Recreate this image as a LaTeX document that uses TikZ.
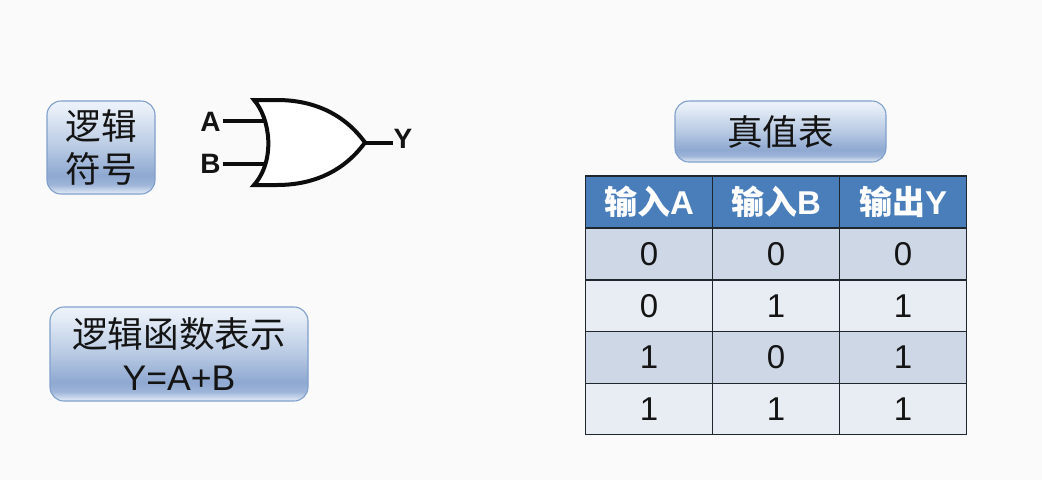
\documentclass[tikz,border=0pt]{standalone}
\usepackage{fontspec}
\setmainfont{Liberation Sans}
\newfontfamily\cjk{Noto Sans CJK SC}
\newfontfamily\cjkb{Noto Sans CJK SC Bold}
\definecolor{bgc}{HTML}{FAFAFA}
\definecolor{btnline}{HTML}{7FA0CB}
\definecolor{hdr}{HTML}{4A7EBB}
\definecolor{rowa}{HTML}{CED7E6}
\definecolor{rowb}{HTML}{E8ECF3}
\definecolor{gridc}{HTML}{20262E}
\pgfdeclareverticalshading{btnshade}{100bp}{
 rgb(0bp)=(0.90,0.93,0.97);
 rgb(25bp)=(0.90,0.93,0.97);
 rgb(30bp)=(0.62,0.71,0.85);
 rgb(35bp)=(0.56,0.66,0.82);
 rgb(50bp)=(0.72,0.79,0.89);
 rgb(70bp)=(0.90,0.93,0.97);
 rgb(75bp)=(0.93,0.95,0.98);
 rgb(100bp)=(0.93,0.95,0.98)}
\tikzset{
 btn/.style={draw=btnline,line width=1.1pt,rounded corners=14pt,shading=btnshade,
   align=center,inner sep=0pt,text=black!92,font=\fontsize{35.6}{43}\selectfont\cjk},
 cell/.style={draw=gridc,line width=1.2pt,minimum height=51.6pt,minimum width=127pt,
   inner sep=0pt,font=\fontsize{33}{36}\selectfont,text=black!92},
 head/.style={cell,fill=hdr,minimum height=52pt,text=white,font=\fontsize{33}{36}\selectfont\bfseries},
 gatel/.style={font=\fontsize{28}{30}\selectfont\bfseries,inner sep=0pt,text=black!92},
 wire/.style={line width=4pt,black!95}
}
\begin{document}
\begin{tikzpicture}[x=1pt,y=-1pt]
\useasboundingbox[fill=bgc] (0,0) rectangle (1042,480);
% buttons
\node[btn,minimum width=108pt,minimum height=93pt] (sym) at (101,147.5) {逻辑\\符号};
\node[btn,minimum width=258pt,minimum height=94pt] (fn) at (179,354) {逻辑函数表示\\{\rmfamily Y=A+B}};
\node[btn,minimum width=211pt,minimum height=61pt] (tt) at (780.5,131.5) {真值表};
% gate
\node[gatel] (A) at (210.5,122) {A};
\node[gatel] (B) at (210.5,164) {B};
\node[gatel] (Y) at (403,139) {Y};
\coordinate (ina) at (267,121);
\coordinate (inb) at (267,164);
\coordinate (out) at (365,142.5);
\coordinate (tipt) at (254,100);
\coordinate (tipb) at (254,185);
\draw[wire] (A.east) ++(2,-1) -- (ina);
\draw[wire] (B.east) ++(2,0) -- (inb);
\draw[wire,fill=white,line join=miter,miter limit=3]
  (tipt) .. controls (270,118) and (276,160) .. (tipb)
  -- (277,185) .. controls (315,185) and (345,170) .. (out)
  .. controls (345,115) and (315,100) .. (277,100) -- cycle;
\draw[wire] (out) -- (Y.west |- out) ;
% table
\node[head] (h1) at (649,202) {\cjkb 输入\rmfamily\bfseries A};
\node[head] (h2) at (776,202) {\cjkb 输入\rmfamily\bfseries B};
\node[head] (h3) at (903,202) {\cjkb 输出\rmfamily\bfseries Y};
\node[cell,fill=rowa] (c11) at (649,254) {0};
\node[cell,fill=rowa] (c12) at (776,254) {0};
\node[cell,fill=rowa] (c13) at (903,254) {0};
\node[cell,fill=rowb] (c21) at (649,305.7) {0};
\node[cell,fill=rowb] (c22) at (776,305.7) {1};
\node[cell,fill=rowb] (c23) at (903,305.7) {1};
\node[cell,fill=rowa] (c31) at (649,357.3) {1};
\node[cell,fill=rowa] (c32) at (776,357.3) {0};
\node[cell,fill=rowa] (c33) at (903,357.3) {1};
\node[cell,fill=rowb] (c41) at (649,409) {1};
\node[cell,fill=rowb] (c42) at (776,409) {1};
\node[cell,fill=rowb] (c43) at (903,409) {1};
\end{tikzpicture}
\end{document}
